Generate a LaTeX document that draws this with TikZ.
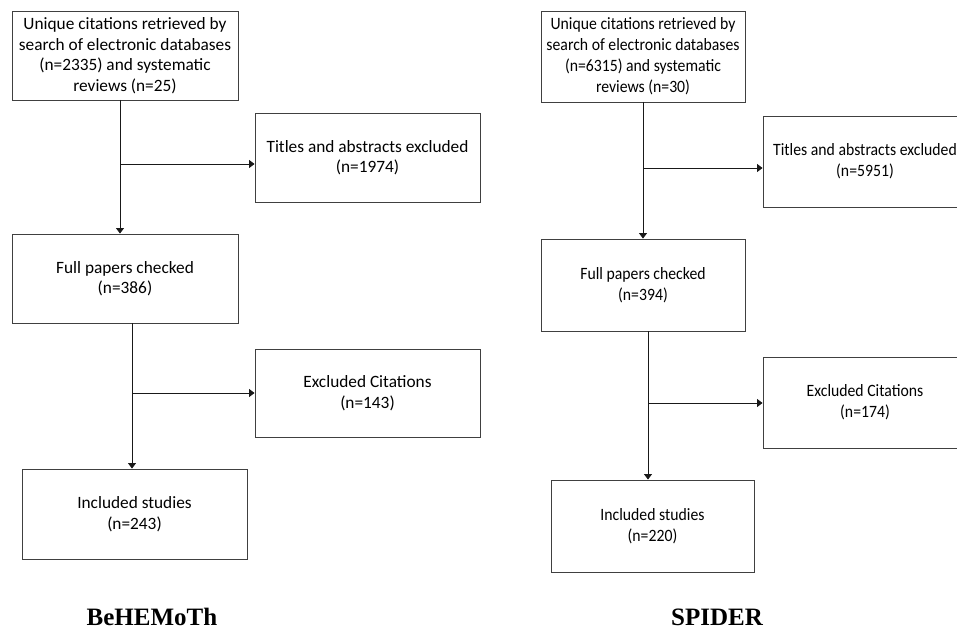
\documentclass[tikz,border=0pt]{standalone}
\usepackage{fontspec}
\setmainfont{Carlito}
\newfontfamily\titlefont{Liberation Serif}
\newfontfamily\narrowfont[FakeStretch=0.91]{Carlito}
\usetikzlibrary{arrows.meta,positioning}
\definecolor{boxline}{RGB}{64,64,64}
\definecolor{wire}{RGB}{25,25,25}

\begin{document}
\begin{tikzpicture}[x=1pt, y=-1pt, font=\fontsize{17.3}{20.6}\selectfont,
  flowbox/.style={draw=boxline, line width=0.9pt, align=center, inner sep=0pt},
  arr/.style={draw=wire, line width=0.9pt, -{Triangle[width=8pt,length=5.5pt]}},
  panel/.style={font=\titlefont\bfseries\fontsize{25}{30}\selectfont}]
  \useasboundingbox (0,0) rectangle (957,631);

  % BeHEMoTh
  \node[flowbox, minimum width=226pt, minimum height=89pt] (uniqL) at (125,55.5)
    {Unique citations retrieved by\\search of electronic databases\\(n=2335) and systematic\\reviews (n=25)};
  \node[flowbox, minimum width=225pt, minimum height=89pt] (titlesL) at (367.5,157.5)
    {Titles and abstracts excluded\\(n=1974)};
  \node[flowbox, minimum width=226pt, minimum height=89pt] (fullL) at (125,278.5)
    {Full papers checked\\(n=386)};
  \node[flowbox, minimum width=225pt, minimum height=88pt] (exclL) at (367.5,393)
    {Excluded Citations\\(n=143)};
  \node[flowbox, minimum width=225pt, minimum height=90pt] (inclL) at (134.5,514)
    {Included studies\\(n=243)};
  \node[panel] (nameL) at (152,617) {BeHEMoTh};

  \coordinate (topL) at (120,100);
  \coordinate (forkL) at (120,164);
  \coordinate (midL) at (132,323);
  \coordinate (forkL2) at (132,393);
  \draw[arr] (topL) -- (topL |- fullL.north);
  \draw[arr] (forkL) -- (forkL -| titlesL.west);
  \draw[arr] (midL) -- (midL |- inclL.north);
  \draw[arr] (forkL2) -- (forkL2 -| exclL.west);

  % SPIDER
  \begin{scope}[font=\narrowfont\fontsize{17.3}{21}\selectfont]
  \node[flowbox, minimum width=204pt, minimum height=91pt] (uniqR) at (643,56.5)
    {Unique citations retrieved by\\search of electronic databases\\(n=6315) and systematic\\reviews (n=30)};
  \node[flowbox, minimum width=204pt, minimum height=91pt] (titlesR) at (865,161.5)
    {Titles and abstracts excluded\\(n=5951)};
  \node[flowbox, minimum width=204pt, minimum height=92pt] (fullR) at (643,285)
    {Full papers checked\\(n=394)};
  \node[flowbox, minimum width=204pt, minimum height=91pt] (exclR) at (865,402.5)
    {Excluded Citations\\(n=174)};
  \node[flowbox, minimum width=203pt, minimum height=92pt] (inclR) at (652.5,526)
    {Included studies\\(n=220)};
  \end{scope}
  \node[panel] (nameR) at (717,617) {SPIDER};

  \coordinate (topR) at (643,102);
  \coordinate (forkR) at (643,168);
  \coordinate (midR) at (648,331);
  \coordinate (forkR2) at (648,403);
  \draw[arr] (topR) -- (topR |- fullR.north);
  \draw[arr] (forkR) -- (forkR -| titlesR.west);
  \draw[arr] (midR) -- (midR |- inclR.north);
  \draw[arr] (forkR2) -- (forkR2 -| exclR.west);
\end{tikzpicture}
\end{document}
